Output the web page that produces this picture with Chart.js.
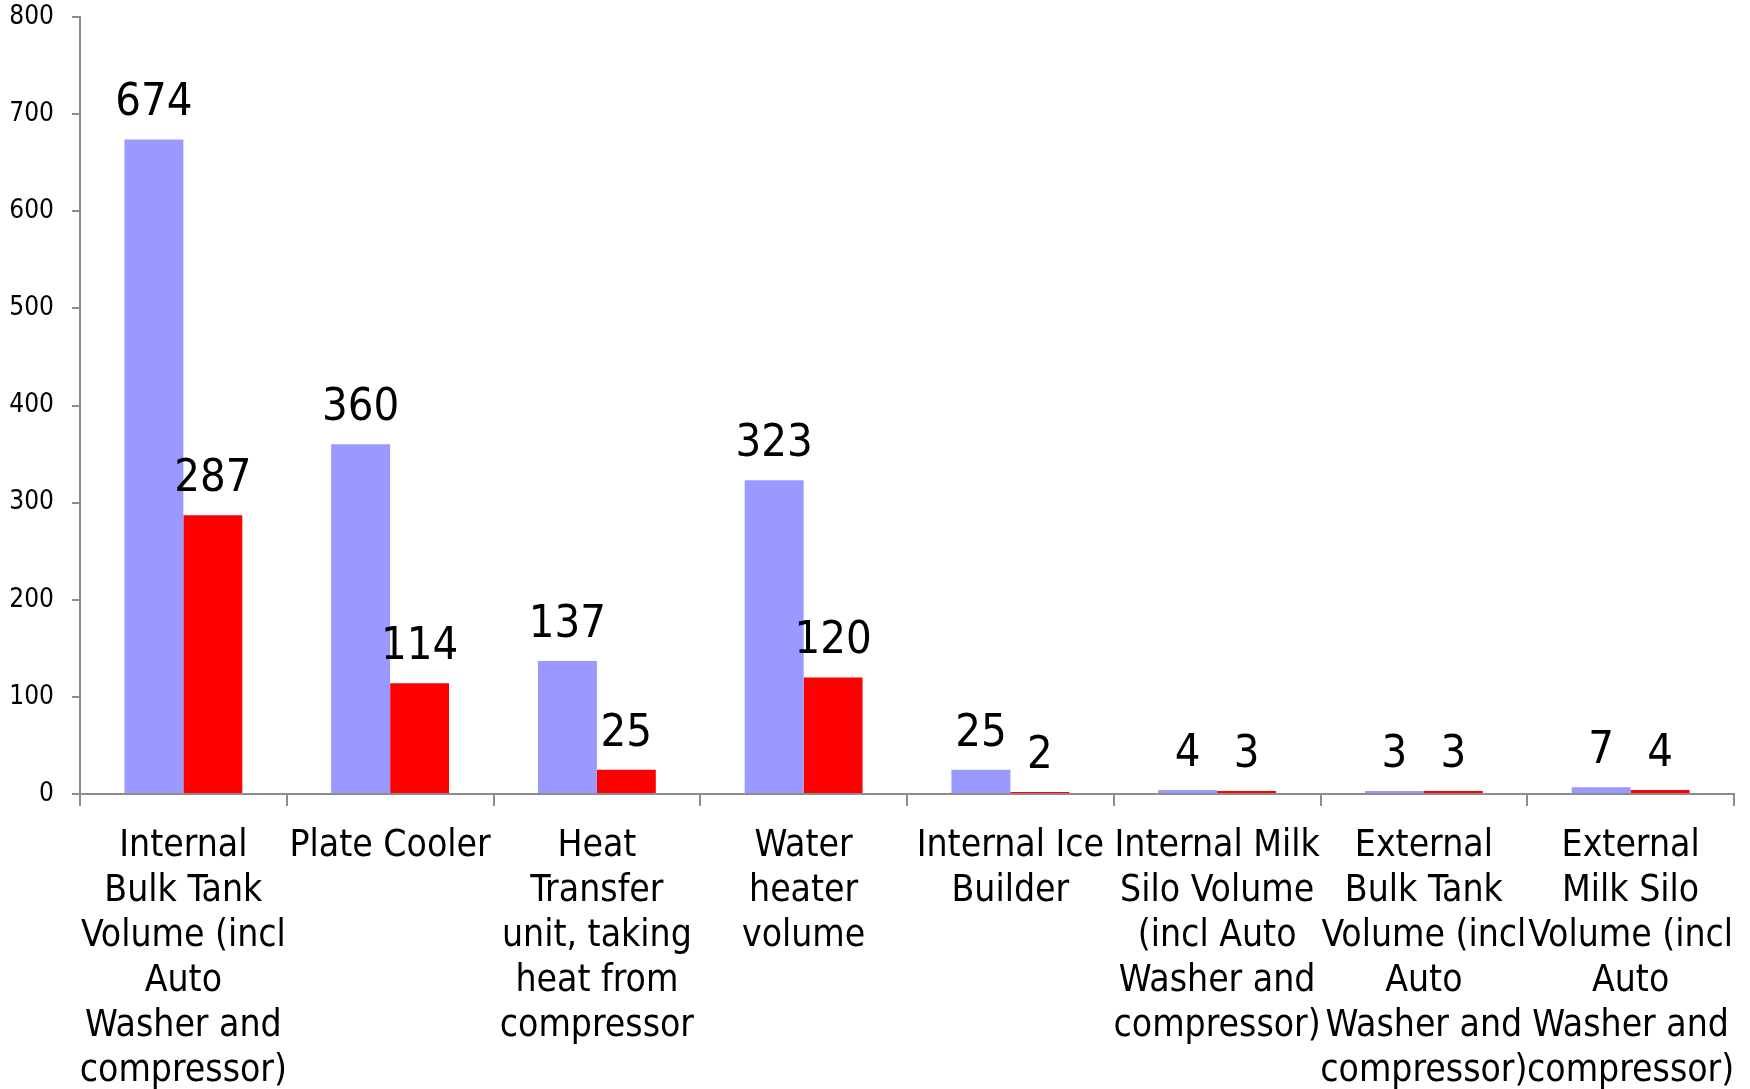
<!DOCTYPE html>
<html>
<head>
<meta charset="utf-8">
<script src="https://cdn.jsdelivr.net/npm/chart.js@4/dist/chart.umd.min.js"></script>
<style>
  html, body { margin: 0; padding: 0; background: #ffffff; }
  canvas { display: block; }
</style>
</head>
<body>
<canvas id="chart" width="1750" height="1089"></canvas>
<script>
// categories, wrapped the way the original chart wraps them
const categories = [
    ["Internal", "Bulk Tank", "Volume (incl", "Auto", "Washer and", "compressor)"],
    ["Plate Cooler"],
    ["Heat", "Transfer", "unit, taking", "heat from", "compressor"],
    ["Water", "heater", "volume"],
    ["Internal Ice", "Builder"],
    ["Internal Milk", "Silo Volume", "(incl Auto", "Washer and", "compressor)"],
    ["External", "Bulk Tank", "Volume (incl", "Auto", "Washer and", "compressor)"],
    ["External", "Milk Silo", "Volume (incl", "Auto", "Washer and", "compressor)"]
];

// two series (blue, red)
const seriesA = [674, 360, 137, 323, 25, 4, 3, 7];
const seriesB = [287, 114, 25, 120, 2, 3, 3, 4];

const yTicks = [0, 100, 200, 300, 400, 500, 600, 700, 800];

const fontFamily = "'DejaVu Sans Condensed', 'Liberation Sans', sans-serif";
const axisColor = "#8c8c8c";

// Draw the value above every bar
const valueLabels = {
    id: "valueLabels",
    afterDatasetsDraw(chart) {
        const ctx = chart.ctx;
        ctx.save();
        ctx.fillStyle = "#000000";
        ctx.font = "45px " + fontFamily;
        ctx.textAlign = "center";
        ctx.textBaseline = "alphabetic";
        chart.data.datasets.forEach((ds, i) => {
            chart.getDatasetMeta(i).data.forEach((bar, j) => {
                ctx.fillText(String(ds.data[j]), bar.x, bar.y - 24);
            });
        });
        ctx.restore();
    }
};

new Chart(document.getElementById("chart"), {
    type: "bar",
    plugins: [valueLabels],
    data: {
        labels: categories,
        datasets: [
            { data: seriesA, backgroundColor: "#9999ff", barPercentage: 1, categoryPercentage: 0.57 },
            { data: seriesB, backgroundColor: "#ff0000", barPercentage: 1, categoryPercentage: 0.57 }
        ]
    },
    options: {
        responsive: false,
        animation: false,
        layout: { padding: { top: 17, right: 16, left: 0, bottom: 0 } },
        plugins: { legend: { display: false }, tooltip: { enabled: false } },
        scales: {
            x: {
                afterFit: (s) => {
                    s.height = 1089 - 17 - 777;
                    s.paddingLeft = 0;
                    s.paddingRight = 0;
                },
                border: { color: axisColor, width: 2 },
                grid: { offset: true, drawOnChartArea: false, tickLength: 12, color: axisColor, lineWidth: 2 },
                ticks: {
                    color: "#000000",
                    font: { family: fontFamily, size: 37, lineHeight: 1.216 },
                    maxRotation: 0,
                    autoSkip: false,
                    padding: 18
                }
            },
            y: {
                min: 0,
                max: 800,
                afterFit: (s) => {
                    s.width = 80;
                    s.paddingTop = 0;
                    s.paddingBottom = 0;
                },
                afterBuildTicks: (s) => { s.ticks = yTicks.map(v => ({ value: v })); },
                border: { color: axisColor, width: 2 },
                grid: { drawOnChartArea: false, tickLength: 8, color: axisColor, lineWidth: 2 },
                ticks: {
                    color: "#000000",
                    font: { family: fontFamily, size: 26 },
                    padding: 18
                }
            }
        }
    }
});
</script>
</body>
</html>
